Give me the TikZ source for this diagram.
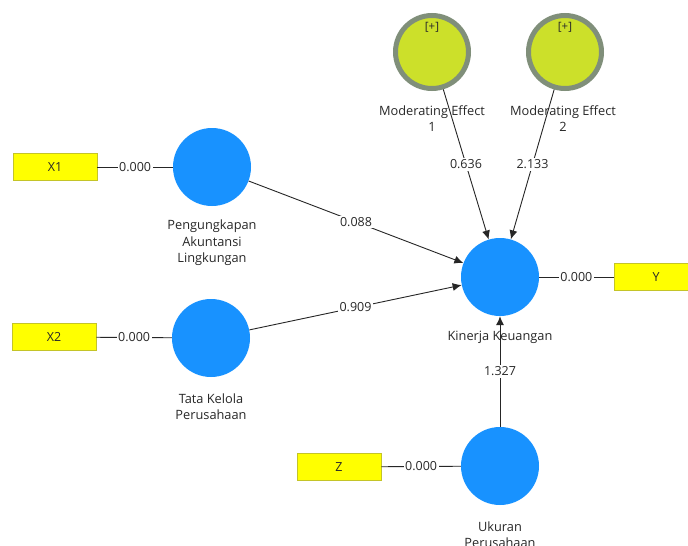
\documentclass[tikz,border=0pt]{standalone}
\usepackage{fontspec}
\setmainfont{Open Sans}
\usetikzlibrary{arrows.meta}
\definecolor{lvblue}{RGB}{24,146,255}
\definecolor{indyel}{RGB}{255,255,0}
\definecolor{indbord}{RGB}{196,196,40}
\definecolor{modfill}{RGB}{204,224,42}
\definecolor{modring}{RGB}{128,143,122}
\definecolor{txt}{RGB}{40,40,40}
\tikzset{
  latent/.style={circle,fill=lvblue,draw=none,minimum size=78pt,inner sep=0pt},
  moder/.style={circle,fill=modfill,draw=modring,line width=5pt,minimum size=73pt,inner sep=0pt},
  indic/.style={rectangle,fill=indyel,draw=indbord,line width=0.8pt,minimum width=84pt,minimum height=27pt,inner sep=0pt,font=\fontsize{12.5}{14}\selectfont,text=txt},
  lbl/.style={font=\fontsize{12.8}{16.5}\selectfont,text=txt,align=center,inner sep=0pt},
  plus/.style={font=\fontsize{11.5}{13}\selectfont,text=txt,inner sep=0pt},
  val/.style={font=\fontsize{12.5}{14}\selectfont,fill=white,text=txt,inner sep=1.5pt},
  conn/.style={draw=black!85,line width=0.9pt},
  path/.style={conn,-{Latex[length=9pt,width=8pt]}},
}
\begin{document}
\begin{tikzpicture}[x=1pt,y=-1pt]
\useasboundingbox[fill=white] (0,0) rectangle (688,546);
% latent variables
\node[latent] (pal) at (212,167) {};
\node[latent] (tkp) at (211,338) {};
\node[latent] (kk) at (500,277) {};
\node[latent] (uk) at (500,466) {};
\node[moder] (me1) at (432,52) {};
\node[moder] (me2) at (565,52) {};
\node[plus] (p1) at (432,27) {[+]};
\node[plus] (p2) at (565,27) {[+]};
% indicators
\node[indic] (x1) at (55,167) {X1};
\node[indic] (x2) at (54,337) {X2};
\node[indic] (y) at (656,277) {Y};
\node[indic] (z) at (339,467) {Z};
% labels
\node[lbl] (lpal) at (212,243) {Pengungkapan\\Akuntansi\\Lingkungan};
\node[lbl] (ltkp) at (211,406.5) {Tata Kelola\\Perusahaan};
\node[lbl] (lkk) at (500,337) {Kinerja Keuangan};
\node[lbl] (luk) at (500,534.5) {Ukuran\\Perusahaan};
\node[lbl] (lme1) at (432,118.5) {Moderating Effect\\1};
\node[lbl] (lme2) at (563,118.5) {Moderating Effect\\2};
% indicator links
\draw[conn] (x1) -- node[val] {0.000} (pal);
\draw[conn] (x2) -- node[val] {0.000} (tkp);
\draw[conn] (kk) -- node[val] {0.000} (y);
\draw[conn] (z) -- node[val] {0.000} (uk);
% structural paths
\draw[path] (pal) -- node[val] {0.088} (kk);
\draw[path] (tkp) -- node[val] {0.909} (kk);
\draw[path] (me1) -- node[val] {0.636} (kk);
\draw[path] (me2) -- node[val] {2.133} (kk);
\draw[path] (uk) -- node[val] {1.327} (kk);
\end{tikzpicture}
\end{document}
